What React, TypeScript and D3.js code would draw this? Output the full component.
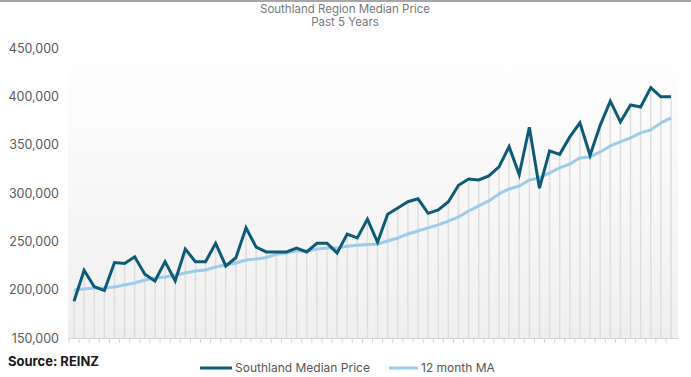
import React from "react";
import * as d3 from "d3";

const months: number[] = d3.range(60);
const priceK: number[] = [188, 220, 203, 199, 228, 227, 234, 216, 209, 229, 209, 242, 229, 229, 248, 224.5, 233, 264, 244, 239, 239, 239, 243, 239, 248, 248, 238, 257.5, 253.5, 273, 249, 278, 284.5, 291, 294, 279, 282.5, 291, 308, 314.5, 313.5, 317.7, 327, 348, 319, 368, 305, 343.5, 340, 358, 372.5, 339, 370, 395, 373.5, 391, 389, 409, 399.5, 399.5];
const maK: number[] = [199.7, 200.7, 201.8, 201.8, 202.8, 204.9, 206.9, 210, 212.1, 213.1, 215.2, 217.3, 219.3, 220.4, 223.5, 225.6, 227.6, 230.7, 231.8, 233.3, 236.6, 238, 240, 240, 242, 243, 243, 245, 246, 246.8, 247.3, 250.4, 253.5, 257.6, 260.7, 263.9, 267, 271, 275.2, 281.4, 286.6, 291.8, 299, 304.2, 307.3, 313.5, 315.6, 320.8, 326, 330, 336.3, 337.3, 342.5, 348.7, 352.9, 357, 362.2, 365.3, 372.5, 377.7];
const yTicks: number[] = [150000, 200000, 250000, 300000, 350000, 400000, 450000];
const titleLines: string[] = ["Southland Region Median Price", "Past 5 Years"];
const seriesNames: string[] = ["Southland Median Price", "12 month MA"];
const sourceText = "Source: REINZ";

export default function App() {
  const W = 691, H = 377;
  const x = d3.scalePoint<number>().domain(months).range([74, 671]);
  const y = d3.scaleLinear().domain([150000, 450000]).range([338, 48]);
  const fmt = d3.format(",");
  const line = d3
    .line<number>()
    .x((_, i) => x(i) as number)
    .y((d) => y(d * 1000));
  const font = "Inter, 'Open Sans', sans-serif";
  return (
    <svg width={W} height={H} style={{ position: "absolute", left: 0, top: 0 }}>
      <defs>
        <linearGradient id="bg" x1="0" y1="0" x2="0" y2="1">
          <stop offset="0" stopColor="#ffffff" />
          <stop offset="1" stopColor="#efefef" />
        </linearGradient>
      </defs>
      <rect x={0} y={0} width={W} height={H} fill="#ffffff" />
      <line x1={0} x2={W} y1={1} y2={1} stroke="#8a8a8a" strokeWidth={1.5} />
      {titleLines.map((t, i) => (
        <text key={t} x={345} y={13 + i * 13} textAnchor="middle" fontFamily={font} fontSize={11.5} fill="#777">
          {t}
        </text>
      ))}
      <rect x={68} y={48} width={610} height={290} fill="url(#bg)" />
      {months.map((m) => (
        <line
          key={"d" + m}
          x1={x(m) as number}
          x2={x(m) as number}
          y1={y(Math.max(priceK[m], maK[m]) * 1000)}
          y2={338}
          stroke="#dedede"
          strokeWidth={1.5}
        />
      ))}
      <line x1={68} x2={678} y1={338.5} y2={338.5} stroke="#d4d4d4" strokeWidth={1} />
      {months.map((m) => (
        <line key={"t" + m} x1={(x(m) as number) - 5} x2={(x(m) as number) - 5} y1={338} y2={343} stroke="#d4d4d4" strokeWidth={1} />
      ))}
      {yTicks.map((t) => (
        <text key={t} x={59} y={y(t) + 4.5} textAnchor="end" fontFamily={font} fontSize={12.5} fill="#595959">
          {fmt(t)}
        </text>
      ))}
      <path d={line(maK) || ""} fill="none" stroke="#9dcbea" strokeWidth={3} strokeLinejoin="round" />
      <path d={line(priceK) || ""} fill="none" stroke="#0e5a77" strokeWidth={3} strokeLinejoin="miter" />
      <text x={8} y={366} fontFamily={font} fontSize={13} fontWeight="bold" fill="#1a1a1a">
        {sourceText}
      </text>
      <line x1={200} x2={232} y1={368} y2={368} stroke="#0e5a77" strokeWidth={3} />
      <text x={235} y={372} fontFamily={font} fontSize={12} fill="#555">
        {seriesNames[0]}
      </text>
      <line x1={389} x2={418} y1={368} y2={368} stroke="#9dcbea" strokeWidth={3} />
      <text x={421} y={372} fontFamily={font} fontSize={12} fill="#555">
        {seriesNames[1]}
      </text>
    </svg>
  );
}
